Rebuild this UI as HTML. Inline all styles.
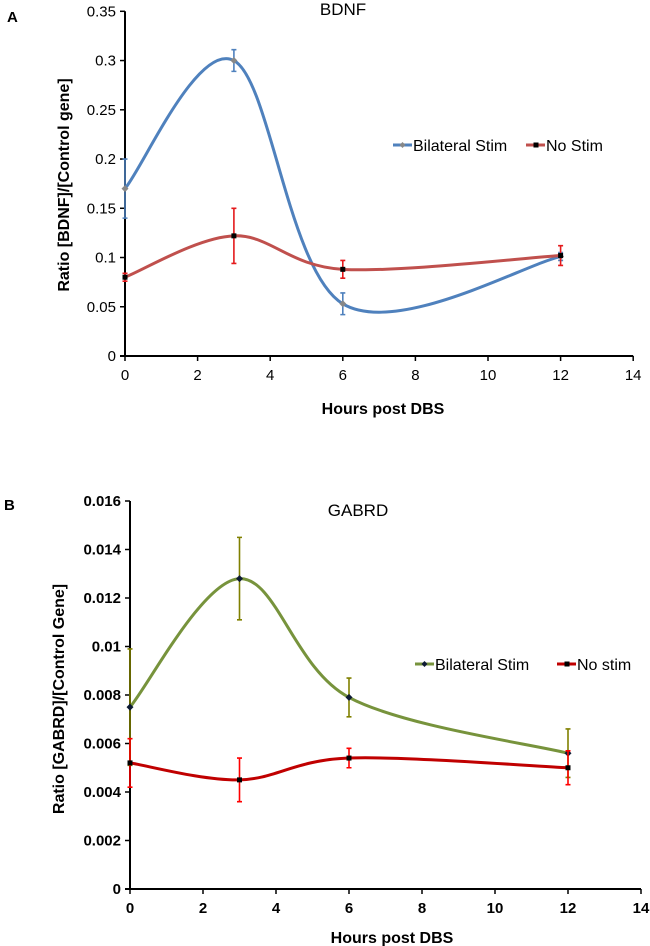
<!DOCTYPE html>
<html><head><meta charset="utf-8"><style>
html,body{margin:0;padding:0;background:#fff;}
svg{display:block;font-family:"Liberation Sans",Arial,sans-serif;}
</style></head><body>
<svg id="fig" width="650" height="946" viewBox="0 0 650 946" xmlns="http://www.w3.org/2000/svg">
<text x="7" y="22" font-size="15" font-weight="bold">A</text>
<text x="4" y="510" font-size="15" font-weight="bold">B</text>
<g id="chartA"></g>
<g id="chartB"></g>
</svg>
<script>
// ---- Chart A data (BDNF) ----
const hoursA = [0, 3, 6, 12];
const bdnfBilateral = [0.17, 0.30, 0.053, 0.101];
const bdnfBilateralErr = [0.03, 0.011, 0.011, 0.004];
const bdnfNoStim = [0.08, 0.122, 0.088, 0.102];
const bdnfNoStimErr = [0.004, 0.028, 0.009, 0.01];
const yTicksA = ["0", "0.05", "0.1", "0.15", "0.2", "0.25", "0.3", "0.35"];
const yTickValsA = [0, 0.05, 0.1, 0.15, 0.2, 0.25, 0.3, 0.35];
const xTicks = [0, 2, 4, 6, 8, 10, 12, 14];

// ---- Chart B data (GABRD) ----
const hoursB = [0, 3, 6, 12];
const gabrdBilateral = [0.0075, 0.0128, 0.0079, 0.0056];
const gabrdBilateralErr = [0.0024, 0.0017, 0.0008, 0.001];
const gabrdNoStim = [0.0052, 0.0045, 0.0054, 0.0050];
const gabrdNoStimErr = [0.001, 0.0009, 0.0004, 0.0007];
const yTicksB = ["0", "0.002", "0.004", "0.006", "0.008", "0.01", "0.012", "0.014", "0.016"];
const yTickValsB = [0, 0.002, 0.004, 0.006, 0.008, 0.01, 0.012, 0.014, 0.016];

const NS = "http://www.w3.org/2000/svg";
function mk(parent, tag, attrs, txt) {
  const e = document.createElementNS(NS, tag);
  for (const k in attrs) e.setAttribute(k, attrs[k]);
  if (txt !== undefined) e.textContent = txt;
  parent.appendChild(e);
  return e;
}
function smoothPath(pts) {
  let d = "M" + pts[0][0] + "," + pts[0][1];
  for (let i = 0; i < pts.length - 1; i++) {
    const p0 = pts[i - 1] || pts[i], p1 = pts[i], p2 = pts[i + 1], p3 = pts[i + 2] || p2;
    const c1x = p1[0] + (p2[0] - p0[0]) / 6, c1y = p1[1] + (p2[1] - p0[1]) / 6;
    const c2x = p2[0] - (p3[0] - p1[0]) / 6, c2y = p2[1] - (p3[1] - p1[1]) / 6;
    d += " C" + c1x + "," + c1y + " " + c2x + "," + c2y + " " + p2[0] + "," + p2[1];
  }
  return d;
}

function drawChart(g, cfg) {
  const X = h => cfg.x0 + h * cfg.pxPerHour;
  const Y = v => cfg.y0 - (v / cfg.yMax) * (cfg.y0 - cfg.yTop);
  const ya = mk(g, "line", {x1: cfg.x0, y1: cfg.yTop, x2: cfg.x0, y2: cfg.y0, stroke: "#000", "stroke-width": 2});
  
  
  const xa = mk(g, "line", {x1: cfg.x0 - 5, y1: cfg.y0, x2: X(14), y2: cfg.y0, stroke: "#000", "stroke-width": 2});
  
  
  cfg.yTickVals.forEach((v, i) => {
    mk(g, "line", {x1: cfg.x0 - 5, y1: Y(v), x2: cfg.x0, y2: Y(v), stroke: "#000", "stroke-width": 1.5});
    const t = mk(g, "text", {x: cfg.x0 - 9, y: Y(v) + 5, "font-size": 15, "text-anchor": "end", "font-weight": cfg.bold ? "bold" : "normal"}, cfg.yTicks[i]);
    
    
  });
  xTicks.forEach(h => {
    mk(g, "line", {x1: X(h), y1: cfg.y0, x2: X(h), y2: cfg.y0 + 5, stroke: "#000", "stroke-width": 1.5});
    const t = mk(g, "text", {x: X(h), y: cfg.y0 + 24, "font-size": 15, "text-anchor": "middle", "font-weight": cfg.bold ? "bold" : "normal"}, String(h));
    
    
  });
  const xt = mk(g, "text", {x: cfg.xTitleX, y: cfg.xTitleY, "font-size": 16, "font-weight": "bold", "text-anchor": "middle"}, "Hours post DBS");
  
  
  const yt = mk(g, "text", {x: 0, y: 0, "font-size": 16, "font-weight": "bold", "text-anchor": "middle", transform: "translate(" + cfg.yTitleX + "," + cfg.yTitleY + ") rotate(-90)"}, cfg.yTitle);
  
  
  const ct = mk(g, "text", {x: cfg.titleX, y: cfg.titleY, "font-size": 17, "text-anchor": "middle"}, cfg.title);
  
  

  cfg.series.forEach(s => {
    const pts = cfg.hours.map((h, i) => [X(h), Y(s.vals[i])]);
    const p = mk(g, "path", {d: smoothPath(pts), fill: "none", stroke: s.color, "stroke-width": 3});
    
    
    cfg.hours.forEach((h, i) => {
      const x = X(h), yh = Y(s.vals[i] + s.err[i]), yl = Y(s.vals[i] - s.err[i]);
      const eb = mk(g, "path", {d: "M" + x + "," + yh + " V" + yl + " M" + (x - 2.5) + "," + yh + " H" + (x + 2.5) + " M" + (x - 2.5) + "," + yl + " H" + (x + 2.5), stroke: s.errColor, "stroke-width": 1.6, fill: "none"});
      
      
      let m;
      if (s.marker === "diamond") {
        const y = Y(s.vals[i]);
        m = mk(g, "path", {d: "M" + x + "," + (y - 3.5) + " L" + (x + 3.5) + "," + y + " L" + x + "," + (y + 3.5) + " L" + (x - 3.5) + "," + y + "Z", fill: s.markerColor});
      } else {
        m = mk(g, "rect", {x: x - 2.5, y: Y(s.vals[i]) - 2.5, width: 5, height: 5, fill: s.markerColor});
      }
      
      
    });
  });
  cfg.legend.forEach(l => {
    const lg = mk(g, "g", {});
    
    
    mk(lg, "line", {x1: l.x, y1: cfg.legendY, x2: l.x + 19, y2: cfg.legendY, stroke: l.color, "stroke-width": 3});
    if (l.marker === "diamond") {
      mk(lg, "path", {d: "M" + (l.x + 9.5) + "," + (cfg.legendY - 3) + " l3,3 l-3,3 l-3,-3Z", fill: l.markerColor});
    } else {
      mk(lg, "rect", {x: l.x + 7.5, y: cfg.legendY - 2.5, width: 5, height: 5, fill: l.markerColor});
    }
    mk(lg, "text", {x: l.x + 20, y: cfg.legendY + 6, "font-size": 16}, l.label);
  });
}

drawChart(document.getElementById("chartA"), {
  x0: 125, y0: 356, yTop: 11.3, yMax: 0.35, pxPerHour: 36.3,
  yTicks: yTicksA, yTickVals: yTickValsA, bold: false,
  hours: hoursA, title: "BDNF", titleX: 343, titleY: 15,
  xTitleX: 383, xTitleY: 414, yTitle: "Ratio [BDNF]/[Control gene]", yTitleX: 69, yTitleY: 185,
  series: [
    {name: "bilateral-stim", vals: bdnfBilateral, err: bdnfBilateralErr, color: "#4f81bd", errColor: "#4f81bd", marker: "diamond", markerColor: "#888"},
    {name: "no-stim", vals: bdnfNoStim, err: bdnfNoStimErr, color: "#c0504d", errColor: "#e41a1c", marker: "square", markerColor: "#000"}
  ],
  legendY: 145,
  legend: [
    {x: 393, color: "#4f81bd", marker: "diamond", markerColor: "#888", label: "Bilateral Stim"},
    {x: 526, color: "#c0504d", marker: "square", markerColor: "#000", label: "No Stim"}
  ]
});
drawChart(document.getElementById("chartB"), {
  x0: 130, y0: 889, yTop: 501, yMax: 0.016, pxPerHour: 36.5,
  yTicks: yTicksB, yTickVals: yTickValsB, bold: true,
  hours: hoursB, title: "GABRD", titleX: 358, titleY: 516,
  xTitleX: 392, xTitleY: 943, yTitle: "Ratio [GABRD]/[Control Gene]", yTitleX: 64, yTitleY: 699,
  series: [
    {name: "bilateral-stim", vals: gabrdBilateral, err: gabrdBilateralErr, color: "#77933c", errColor: "#808000", marker: "diamond", markerColor: "#0d1a33"},
    {name: "no-stim", vals: gabrdNoStim, err: gabrdNoStimErr, color: "#c00000", errColor: "#ff0000", marker: "square", markerColor: "#000"}
  ],
  legendY: 664,
  legend: [
    {x: 415, color: "#77933c", marker: "diamond", markerColor: "#0d1a33", label: "Bilateral Stim"},
    {x: 557, color: "#c00000", marker: "square", markerColor: "#000", label: "No stim"}
  ]
});
</script>
</body></html>
